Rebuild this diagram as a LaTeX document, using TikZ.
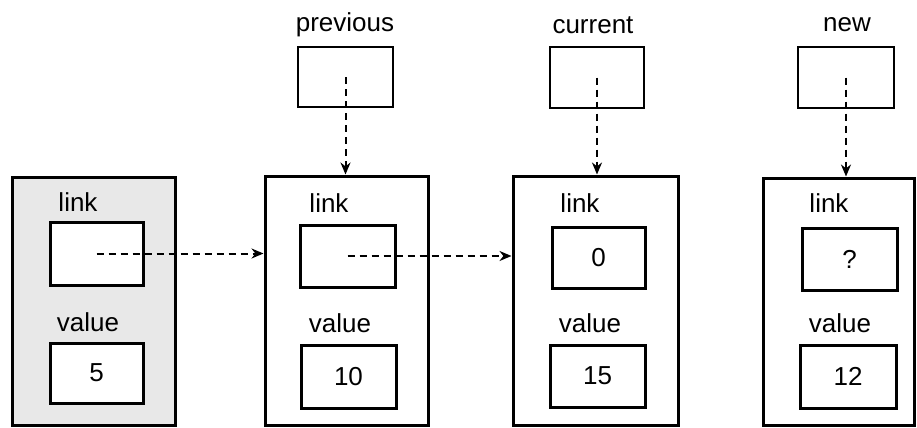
\documentclass[tikz,border=0pt]{standalone}
\usepackage{fontspec}
\setmainfont{Liberation Sans}
\usetikzlibrary{fit,arrows.meta}
\begin{document}
\begin{tikzpicture}[x=0.5pt,y=-0.5pt,
  outerbox/.style={draw, line width=1.5pt, inner sep=0pt},
  cellbox/.style={draw, line width=1.5pt, inner sep=0pt, fill=white, font=\fontsize{13}{15}\selectfont},
  ptrbox/.style={draw, line width=1.1pt, inner sep=0pt},
  lbl/.style={font=\fontsize{13}{15}\selectfont, inner sep=0pt},
  arr/.style={line width=1pt, dash pattern=on 3.5pt off 2.5pt, -{Stealth[length=6pt,width=5pt]}}]
\useasboundingbox (0,0) rectangle (917,428);
% node 1 (shaded)
\node[outerbox, fill=gray!18, fit={(12,177)(175,425)}] (n1) {};
\node[cellbox, fit={(50,222)(143,285)}] (l1) {};
\node[cellbox, fit={(50,343)(143,403)}, label=center:{\fontsize{13}{15}\selectfont 5}] (v1) {};
\node[lbl] (t1a) at (78,202) {link};
\node[lbl] (t1b) at (88,322) {value};
% node 2
\node[outerbox, fit={(265,176)(428,425)}] (n2) {};
\node[cellbox, fit={(300,225)(395,287)}] (l2) {};
\node[cellbox, fit={(301,345)(396,408)}, label=center:{\fontsize{13}{15}\selectfont 10}] (v2) {};
\node[lbl] (t2a) at (329,203) {link};
\node[lbl] (t2b) at (340,323) {value};
% node 3
\node[outerbox, fit={(513,176)(678,425)}] (n3) {};
\node[cellbox, fit={(552,227)(645,288)}, label=center:{\fontsize{13}{15}\selectfont 0}] (l3) {};
\node[cellbox, fit={(550,345)(645,407)}, label=center:{\fontsize{13}{15}\selectfont 15}] (v3) {};
\node[lbl] (t3a) at (580,203) {link};
\node[lbl] (t3b) at (590,323) {value};
% node 4
\node[outerbox, fit={(763,178)(914,425)}] (n4) {};
\node[cellbox, fit={(802,228)(897,290)}, label=center:{\fontsize{13}{15}\selectfont ?}] (l4) {};
\node[cellbox, fit={(800,345)(896,408)}, label=center:{\fontsize{13}{15}\selectfont 12}] (v4) {};
\node[lbl] (t4a) at (829,203) {link};
\node[lbl] (t4b) at (840,323) {value};
% pointer variables
\node[ptrbox, fit={(298,47)(393,107)}] (prev) {};
\node[lbl] (prevt) at (345,25) {previous};
\node[ptrbox, fit={(550,47)(644,108)}] (cur) {};
\node[lbl] (curt) at (593,25) {current};
\node[ptrbox, fit={(798,47)(894,108)}] (new) {};
\node[lbl] (newt) at (847,25) {new};
% arrows
\draw[arr] (prev.center) -- (prev.center |- n2.north);
\draw[arr] (cur.center) -- (cur.center |- n3.north);
\draw[arr] (new.center) -- (new.center |- n4.north);
\draw[arr] (l1.center) -- (l1.center -| n2.west);
\draw[arr] (l2.center) -- (l2.center -| n3.west);
\end{tikzpicture}
\end{document}
